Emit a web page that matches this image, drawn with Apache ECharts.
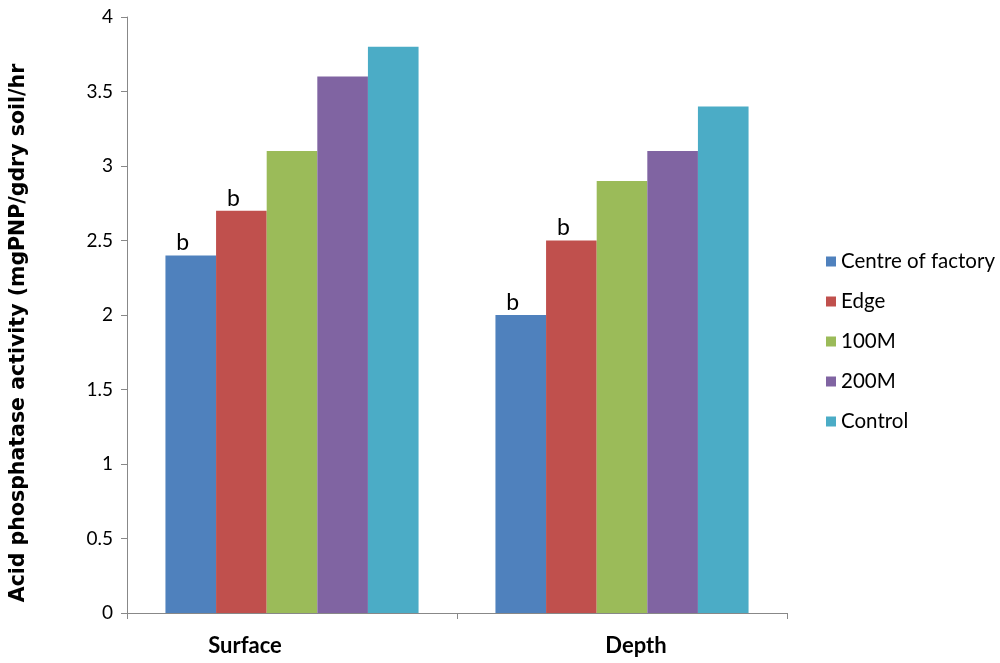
<!DOCTYPE html>
<html><head><meta charset="utf-8">
<script src="https://cdn.jsdelivr.net/npm/echarts@6/dist/echarts.min.js"></script>
<style>html,body{margin:0;padding:0;background:#fff}#c{width:1000px;height:663px}</style>
</head><body><div id="c"></div>
<script>
const categories = ['Surface', 'Depth'];
const seriesNames = ['Centre of factory', 'Edge', '100M', '200M', 'Control'];
const centreVals = [2.4, 2.0];
const edgeVals = [2.7, 2.5];
const m100Vals = [3.1, 2.9];
const m200Vals = [3.6, 3.1];
const controlVals = [3.8, 3.4];
const letterCentre = ['b', 'b'];
const letterEdge = ['b', 'b'];
const yTicks = [0, 0.5, 1, 1.5, 2, 2.5, 3, 3.5, 4];
const colors = ['#4F81BD', '#C0504D', '#9BBB59', '#8064A2', '#4BACC6'];
const font = "Lato, 'Open Sans', sans-serif";

function mk(name, vals, color, letters) {
  const s = {
    name: name, type: 'bar', data: vals, barGap: '0%', barCategoryGap: '23.3%',
    itemStyle: { color: color }
  };
  if (letters) {
    s.label = {
      show: true, position: 'top', distance: 1, offset: [-8, 0],
      formatter: p => letters[p.dataIndex], fontFamily: font, fontSize: 23, color: '#000'
    };
  }
  return s;
}

const chart = echarts.init(document.getElementById('c'));
chart.setOption({
  animation: false,
  color: colors,
  grid: { left: 125, right: 213, top: 17, bottom: 50 },
  legend: {
    orient: 'vertical', left: 821, top: 246, itemGap: 19, itemWidth: 10, itemHeight: 10,
    icon: 'rect', textStyle: { fontFamily: font, fontSize: 20.5, color: '#000' },
    data: seriesNames
  },
  xAxis: {
    type: 'category',
    data: [
      { value: categories[0], textStyle: { padding: [0, 94, 0, 0] } },
      { value: categories[1], textStyle: { padding: [0, 0, 0, 28] } }
    ],
    axisLine: { lineStyle: { color: '#888' } },
    axisTick: { show: true, length: 6, lineStyle: { color: '#888' } },
    axisLabel: { fontFamily: font, fontSize: 22, fontWeight: 'bold', color: '#000', margin: 22 }
  },
  yAxis: {
    type: 'value', min: 0, max: 4, interval: 0.5,
    name: 'Acid phosphatase activity (mgPNP/gdry soil/hr', nameLocation: 'middle', nameGap: 98,
    nameTextStyle: { fontFamily: "'DejaVu Sans', sans-serif", fontSize: 20.5, fontWeight: 'bold', color: '#000',
      padding: [0, 36, 0, 0] },
    axisLine: { show: true, lineStyle: { color: '#888' } },
    axisTick: { show: true, length: 6, lineStyle: { color: '#888' } },
    splitLine: { show: false },
    axisLabel: { fontFamily: font, fontSize: 19, color: '#000', margin: 14,
      formatter: v => yTicks.includes(v) ? String(v) : '' }
  },
  series: [
    mk(seriesNames[0], centreVals, colors[0], letterCentre),
    mk(seriesNames[1], edgeVals, colors[1], letterEdge),
    mk(seriesNames[2], m100Vals, colors[2]),
    mk(seriesNames[3], m200Vals, colors[3]),
    mk(seriesNames[4], controlVals, colors[4])
  ]
});
</script></body></html>
